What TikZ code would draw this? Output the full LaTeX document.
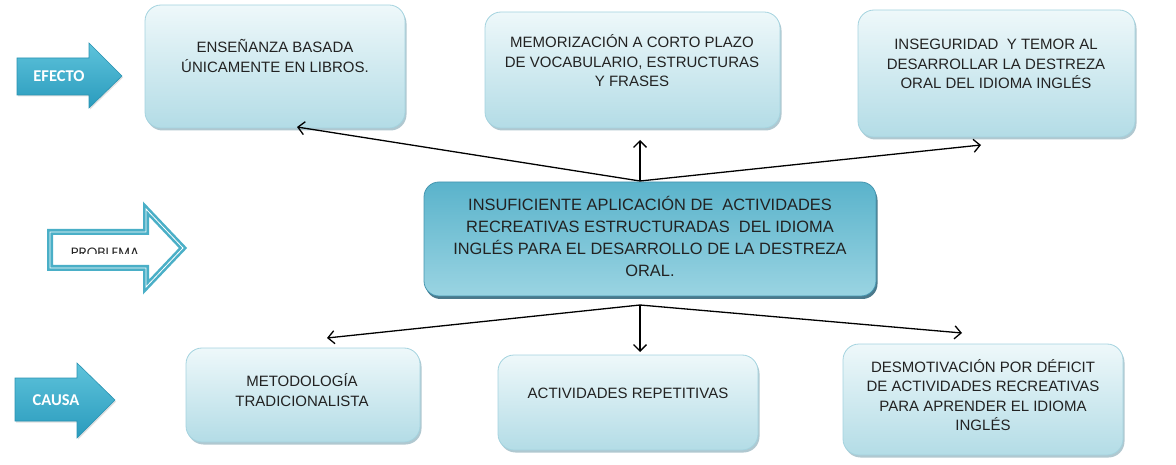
\documentclass[tikz,border=0pt]{standalone}
\usepackage{fontspec}
\setmainfont{Liberation Sans}
\newfontfamily\labfont{Carlito}
\newfontfamily\probfont{Poppins}
\usetikzlibrary{arrows.meta,shadows}
\definecolor{boxtop}{HTML}{EEF8FA}
\definecolor{boxbot}{HTML}{B3DCE6}
\definecolor{boxline}{HTML}{A4D3DF}
\definecolor{boxshadow}{HTML}{8FB0BC}
\definecolor{ctop}{HTML}{5AB3CB}
\definecolor{cbot}{HTML}{9AD4E2}
\definecolor{cline}{HTML}{4696B0}
\definecolor{cshadow}{HTML}{2C6277}
\definecolor{atop}{HTML}{5EC3DB}
\definecolor{abot}{HTML}{2A9BBD}
\definecolor{aline}{HTML}{2A93B2}
\definecolor{pline}{HTML}{4AAFC7}
\definecolor{txtc}{HTML}{222222}
\tikzset{
  ebox/.style={draw=boxline, line width=0.8pt, rounded corners=16pt, top color=boxtop, bottom color=boxbot,
    drop shadow={shadow xshift=1.5pt, shadow yshift=-2.5pt, fill=boxshadow, opacity=0.7}, inner sep=0pt},
  cbox/.style={draw=cline, line width=0.8pt, rounded corners=15pt, top color=ctop, bottom color=cbot,
    drop shadow={shadow xshift=1.5pt, shadow yshift=-3pt, fill=cshadow, opacity=0.85}, inner sep=0pt},
  txt/.style={align=center, text=txtc, font=\fontsize{15}{19.5}\selectfont, inner sep=0pt},
  ctxt/.style={align=center, text=txtc, font=\fontsize{16.4}{21.7}\selectfont, inner sep=0pt},
  conn/.style={draw=black, line width=1.3pt, -{Straight Barb[length=6.5pt,width=13pt,line width=1.3pt]}},
  farrow/.style={draw=aline, line width=0.6pt, top color=atop, bottom color=abot,
    drop shadow={shadow xshift=1pt, shadow yshift=-1.5pt, fill=gray!50, opacity=0.5}},
  albl/.style={text=white, font=\labfont\bfseries\fontsize{16.5}{19}\selectfont, inner sep=0pt},
}
\begin{document}
\begin{tikzpicture}[x=1pt,y=-1pt]
\useasboundingbox (0,0) rectangle (1176,465);
% effect boxes
\node[ebox, minimum width=260pt, minimum height=123pt] (b1) at (275,66.5) {};
\node[txt] (t1) at (275,56) {ENSEÑANZA BASADA\\ÚNICAMENTE EN LIBROS.};
\node[ebox, minimum width=295pt, minimum height=116pt] (b2) at (632.5,70) {};
\node[txt] (t2) at (632,61) {MEMORIZACIÓN A CORTO PLAZO\\DE VOCABULARIO, ESTRUCTURAS\\Y FRASES};
\node[ebox, minimum width=277pt, minimum height=127pt] (b3) at (996.5,73.5) {};
\node[txt] (t3) at (996,64) {INSEGURIDAD~ Y TEMOR AL\\DESARROLLAR LA DESTREZA\\ORAL DEL IDIOMA INGLÉS};
% central problem
\node[cbox, minimum width=452pt, minimum height=114pt] (c) at (650,239) {};
\node[ctxt] (tc) at (650,236.5) {INSUFICIENTE APLICACIÓN DE~ ACTIVIDADES\\RECREATIVAS ESTRUCTURADAS~ DEL IDIOMA\\INGLÉS PARA EL DESARROLLO DE LA DESTREZA\\ORAL.};
% cause boxes
\node[ebox, minimum width=234pt, minimum height=94pt] (b4) at (303,395) {};
\node[txt] (t4) at (302,390) {METODOLOGÍA\\TRADICIONALISTA};
\node[ebox, minimum width=260pt, minimum height=95pt] (b5) at (628,402.5) {};
\node[txt] (t5) at (628,393) {ACTIVIDADES REPETITIVAS};
\node[ebox, minimum width=280pt, minimum height=111pt] (b6) at (983,399.5) {};
\node[txt] (t6) at (983,395) {DESMOTIVACIÓN POR DÉFICIT\\DE ACTIVIDADES RECREATIVAS\\PARA APRENDER EL IDIOMA\\INGLÉS};
% connectors
\coordinate (ctop) at (640,181);
\coordinate (cbotp) at (640,305);
\coordinate (e1) at (297,127);
\coordinate (e2) at (640,140);
\coordinate (e3) at (981,145);
\coordinate (e4) at (327,338);
\coordinate (e5) at (640,352);
\coordinate (e6) at (962,333);
\draw[conn] (ctop) -- (e1);
\draw[conn] (ctop) -- (e2);
\draw[conn] (ctop) -- (e3);
\draw[conn] (cbotp) -- (e4);
\draw[conn] (cbotp) -- (e5);
\draw[conn] (cbotp) -- (e6);
% left arrows
\path[farrow] (17,58) -- (89,58) -- (89,43) -- (122,76) -- (89,108) -- (89,95) -- (17,95) -- cycle;
\node[albl] (lef) at (59,76) {EFECTO};
\path[farrow] (15,378) -- (77,378) -- (77,363) -- (115,400) -- (77,438) -- (77,421) -- (15,421) -- cycle;
\node[albl] (lca) at (56,400) {CAUSA};
\draw[draw=pline, line width=2.6pt, double=white, double distance=0.8pt, line join=miter]
  (50,232) -- (146,232) -- (146,209) -- (183,248) -- (146,287) -- (146,268) -- (50,268) -- cycle;
\begin{scope}
\clip (55,240) rectangle (160,254);
\node[text=txtc, font=\probfont\fontsize{13.5}{16}\selectfont, inner sep=0pt, anchor=base] (lpr) at (105,258) {PROBLEMA};
\end{scope}
\end{tikzpicture}
\end{document}
